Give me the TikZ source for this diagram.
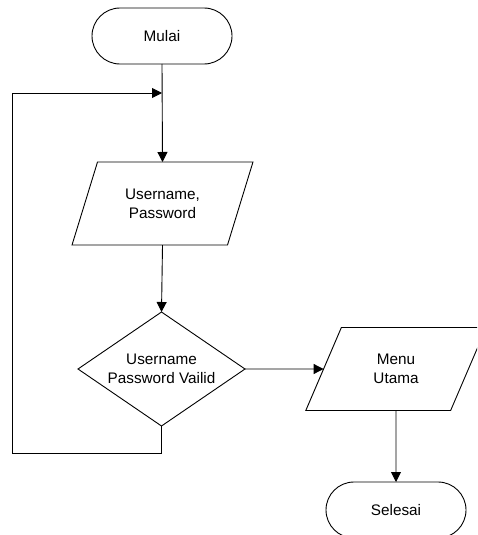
\documentclass[tikz,border=0pt]{standalone}
\usepackage{fontspec}
\setmainfont{Liberation Sans}
\usetikzlibrary{shapes.geometric,arrows.meta}
\begin{document}
\begin{tikzpicture}[x=1pt,y=-1pt,
  every node/.style={font=\fontsize{15.3}{19}\selectfont, align=center,
    line width=0.9pt, inner sep=0pt, outer sep=0pt},
  terminal/.style={draw, rectangle, rounded corners=28pt,
    minimum width=140pt, minimum height=56pt},
  io/.style={draw, trapezium, trapezium left angle=63.7,
    trapezium right angle=116.3, trapezium stretches=true,
    minimum width=181pt, minimum height=83pt},
  decision/.style={draw, diamond, aspect=1.465,
    minimum width=167pt, minimum height=114pt},
  flow/.style={line width=0.9pt, -{Triangle[length=10pt,width=10pt]}}
]
\useasboundingbox (0,0) rectangle (477,535);
\clip (0,0) rectangle (477,535);

% shapes
\node[terminal] (mulai)   at (162,36)    {Mulai};
\node[io]       (input)   at (162.5,203.5) {Username,\\Password};
\node[decision] (cek)     at (161.5,369) {Username\\Password Vailid};
\node[io]       (menu)    at (396,369)   {Menu\\Utama};
\node[terminal] (selesai) at (396,510)   {Selesai};

% loop-back route
\coordinate (join) at (162,93);
\coordinate (kiri) at (12,453);

% connectors
\draw[flow] (mulai.south) -- (input.north);
\draw[flow] (cek.south) |- (kiri) |- (join);
\draw[flow] (input.south) -- (cek.north);
\draw[flow] (cek.east) -- (menu);
\draw[flow] (menu.south) -- (selesai.north);
\end{tikzpicture}
\end{document}
